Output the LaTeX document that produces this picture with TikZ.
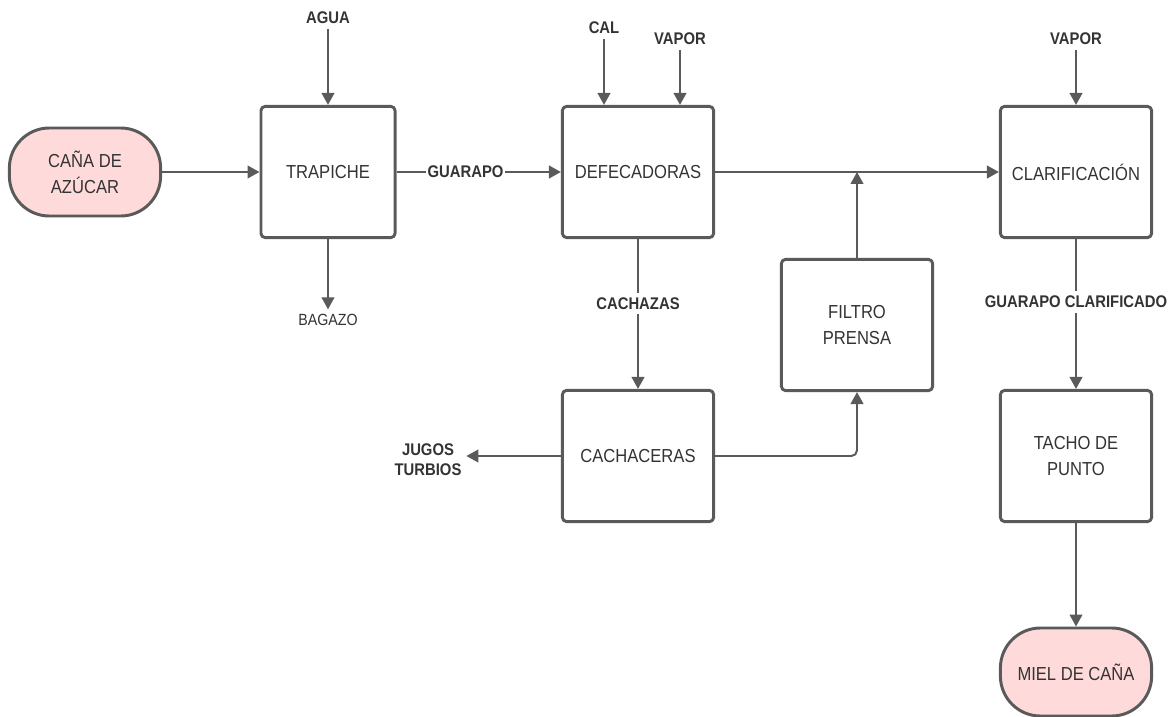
\documentclass[tikz,border=0pt]{standalone}
\usepackage{fontspec}
\setmainfont[FakeStretch=0.88]{Liberation Sans}
\usetikzlibrary{arrows.meta}
\definecolor{ln}{HTML}{5A5A5A}
\definecolor{txt}{HTML}{333333}
\definecolor{pk}{HTML}{FFDADA}
\begin{document}
\begin{tikzpicture}[x=0.025cm,y=-0.025cm,line join=round,>={Triangle[length=8.5pt,width=9pt]},font=\fontsize{13.4}{18.4}\selectfont]
\tikzset{every node/.style={text=txt},
proc/.style={draw=ln,line width=2.1pt,rounded corners=3pt,minimum width=3.78cm,minimum height=3.28cm,align=center},
term/.style={proc,fill=pk,rounded corners=1cm,minimum height=2.2cm},
lab/.style={font=\bfseries\fontsize{12}{14}\selectfont,align=center},
flow/.style={draw=ln,line width=1.4pt,->}}
\useasboundingbox (0,0) rectangle (1168,716);
\node[term] (cane) at (85,172) {CAÑA DE\\AZÚCAR};
\node[proc,minimum width=3.35cm] (trap) at (328,172) {TRAPICHE};
\node[proc] (defe) at (638,172) {DEFECADORAS};
\node[proc] (clar) at (1076,172) {CLARIFICACIÓN};
\node[proc] (filt) at (857,325) {FILTRO\\PRENSA};
\node[proc] (cach) at (638,456) {CACHACERAS};
\node[proc] (tacho) at (1076,456) {TACHO DE\\PUNTO};
\node[term] (miel) at (1076,672) {MIEL DE CAÑA};
\node[lab] (agua) at (328,18) {AGUA};
\node[lab] (cal) at (604,28) {CAL};
\node[lab] (vap1) at (680,39) {VAPOR};
\node[lab] (vap2) at (1076,39) {VAPOR};
\node[font=\fontsize{11.5}{13}\selectfont] (baga) at (328,320) {BAGAZO};
\node[lab] (jugo) at (428,460) {JUGOS\\TURBIOS};
\draw[flow] (cane) -- (trap);
\draw[flow] (agua) -- (trap);
\draw[flow] (trap) -- (baga);
\draw[flow] (trap) -- node[lab,fill=white,inner sep=1pt,pos=0.42]{GUARAPO} (defe);
\draw[flow] (cal) -- (cal |- defe.north);
\draw[flow] (vap1) -- (vap1 |- defe.north);
\draw[flow] (defe) -- (clar);
\draw[flow] (vap2) -- (clar);
\draw[flow] (defe) -- node[lab,fill=white,pos=0.43]{CACHAZAS} (cach);
\draw[flow] (filt) -- (filt |- defe);
\draw[flow] (cach) -- (jugo.east |- cach);
\draw[flow,rounded corners=4pt] (cach) -| (filt);
\draw[flow] (clar) -- node[lab,fill=white,pos=0.42]{GUARAPO CLARIFICADO} (tacho);
\draw[flow] (tacho) -- (miel);
\end{tikzpicture}
\end{document}
